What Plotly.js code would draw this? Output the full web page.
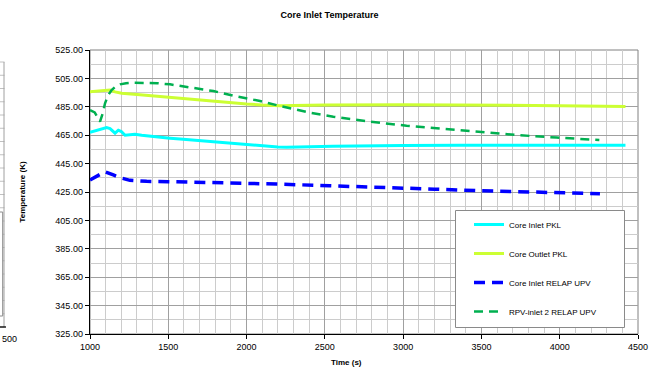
<!DOCTYPE html>
<html>
<head>
<meta charset="utf-8">
<script src="https://cdn.plot.ly/plotly-3.0.1.min.js"></script>
<style>html,body{margin:0;padding:0;background:#fff;}#chart{width:662px;height:370px;}</style>
</head>
<body>
<div id="chart"></div>
<script>
// ---- data ----
const seriesNames = ["Core Inlet PKL", "Core Outlet PKL", "Core Inlet RELAP UPV", "RPV-inlet 2 RELAP UPV"];

const inletPklTime = [1000, 1060, 1106, 1128, 1160, 1181, 1200, 1224, 1260, 1287, 1330, 1362, 1420, 1511, 1575, 1680, 1788, 1900, 2000, 2100, 2200, 2256, 2320, 2405, 2550, 2724, 3000, 3363, 3700, 4000, 4420];
const inletPklTemp = [467.0, 468.6, 470.3, 469.6, 466.4, 468.5, 467.6, 465.0, 465.4, 465.7, 464.9, 464.5, 463.7, 462.9, 462.3, 461.3, 460.4, 459.5, 458.6, 457.6, 456.7, 456.5, 456.5, 456.9, 457.3, 457.6, 457.8, 457.9, 457.9, 457.9, 457.9];

const outletPklTime = [1000, 1050, 1100, 1128, 1160, 1202, 1300, 1400, 1500, 1575, 1700, 1800, 1894, 2000, 2100, 2213, 2300, 2500, 3000, 3500, 4000, 4420];
const outletPklTemp = [495.6, 496.0, 496.5, 496.8, 495.5, 494.5, 493.6, 492.6, 491.7, 491.0, 489.8, 488.8, 487.9, 487.0, 486.3, 485.8, 486.0, 486.3, 486.5, 486.3, 485.8, 485.2];

const inletRelapTime = [1000, 1050, 1096, 1149, 1200, 1255, 1362, 1500, 1788, 2000, 2192, 2530, 2800, 2980, 3200, 3490, 3800, 4000, 4257];
const inletRelapTemp = [433.5, 436.5, 439.3, 437.0, 434.8, 433.2, 432.5, 432.3, 431.8, 431.2, 430.6, 429.4, 428.6, 427.9, 427.0, 425.9, 424.9, 424.3, 423.8];

const rpvInletTime = [1000, 1030, 1064, 1080, 1096, 1115, 1138, 1165, 1192, 1230, 1277, 1362, 1430, 1511, 1639, 1788, 1916, 2086, 2213, 2277, 2400, 2554, 2788, 3022, 3200, 3363, 3448, 3725, 3980, 4253];
const rpvInletTemp = [482.7, 481.0, 474.5, 480.0, 487.5, 493.0, 496.8, 499.5, 500.8, 501.6, 502.0, 502.0, 501.6, 500.8, 498.7, 496.1, 492.8, 489.1, 485.6, 484.0, 481.0, 478.0, 474.5, 471.7, 470.0, 468.7, 467.5, 465.1, 463.3, 461.6];

const xTickVals = [1000, 1500, 2000, 2500, 3000, 3500, 4000, 4500];
const yTickVals = [325, 345, 365, 385, 405, 425, 445, 465, 485, 505, 525];

// ---- layout helpers (pixel -> paper) ----
const W = 662, H = 370, ML = 90, MR = 24, MT = 50, MB = 36;
const PW = W - ML - MR, PH = H - MT - MB;
const px = x => (x - ML) / PW;
const py = y => (H - MB - y) / PH;
const FONT = "Liberation Sans, Arial, sans-serif";

const traces = [
  {x: inletPklTime, y: inletPklTemp, name: seriesNames[0], legendgroup: "a", mode: "lines",
   line: {color: "#00FFFF", width: 3}},
  {x: outletPklTime, y: outletPklTemp, name: seriesNames[1], legendgroup: "b", mode: "lines",
   line: {color: "#CCFF33", width: 3}},
  {x: inletRelapTime, y: inletRelapTemp, name: seriesNames[2], legendgroup: "c", mode: "lines",
   line: {color: "#0000FF", width: 3.5, dash: "11px,7px"}},
  {x: rpvInletTime, y: rpvInletTemp, name: seriesNames[3], legendgroup: "d", mode: "lines",
   line: {color: "#00B050", width: 2.5, dash: "9px,6px"}}
];

// decorations: border of plot area, legend box, fragment of neighbouring chart
const shapes = [
  {type: "rect", xref: "paper", yref: "paper", x0: 0, x1: 1, y0: 0, y1: 1,
   line: {color: "#808080", width: 1}, layer: "below"},
  {type: "rect", xref: "paper", yref: "paper", x0: px(455.5), x1: px(624.5), y0: py(327.5), y1: py(210.5),
   line: {color: "#8a8a8a", width: 1}, fillcolor: "#ffffff", layer: "above"}
];
// neighbouring chart fragment (left edge)
for (let i = 0; i <= 20; i++) {
  const yy = 62 + i * 13.25;
  shapes.push({type: "line", xref: "paper", yref: "paper", x0: px(0), x1: px(4.5), y0: py(yy), y1: py(yy),
    line: {color: "#c0c0c0", width: 1}});
}
shapes.push({type: "line", xref: "paper", yref: "paper", x0: px(4), x1: px(4), y0: py(62), y1: py(327),
  line: {color: "#a0a0a0", width: 1}});
shapes.push({type: "rect", xref: "paper", yref: "paper", x0: px(-20), x1: px(2.7), y0: py(316), y1: py(212),
  line: {color: "#8a8a8a", width: 1}, fillcolor: "#ffffff"});
shapes.push({type: "line", xref: "paper", yref: "paper", x0: px(0), x1: px(6), y0: py(327), y1: py(327),
  line: {color: "#000000", width: 1.3}});

const layout = {
  width: W, height: H,
  margin: {l: ML, r: MR, t: MT, b: MB, pad: 0},
  paper_bgcolor: "#ffffff", plot_bgcolor: "#ffffff",
  font: {family: FONT, size: 9, color: "#000"},
  title: {text: "<b>Core Inlet Temperature</b>", x: 329.5 / W, xref: "container", xanchor: "center",
          y: 1 - 15 / H, yref: "container", yanchor: "middle", font: {family: FONT, size: 9, color: "#000"}},
  showlegend: true,
  legend: {x: px(469), y: py(210), xanchor: "left", yanchor: "top", bgcolor: "rgba(0,0,0,0)",
           borderwidth: 0, font: {family: FONT, size: 8, color: "#000"}, tracegroupgap: 10},
  xaxis: {range: [1000, 4500], tickvals: xTickVals, ticktext: xTickVals.map(String),
          showline: true, linecolor: "#000", linewidth: 1.3, ticks: "outside", ticklen: 4, tickcolor: "#000",
          showgrid: true, gridcolor: "#a0a0a0", gridwidth: 1, zeroline: false,
          minor: {dtick: 100, tick0: 1000, showgrid: true, gridcolor: "#cccccc", gridwidth: 1, ticks: ""},
          tickfont: {family: FONT, size: 9, color: "#000"}},
  yaxis: {range: [325, 525], tickvals: yTickVals, ticktext: yTickVals.map(v => v.toFixed(2)),
          showline: true, linecolor: "#000", linewidth: 1.3, ticks: "outside", ticklen: 4, tickcolor: "#000",
          showgrid: true, gridcolor: "#a0a0a0", gridwidth: 1, zeroline: false,
          minor: {dtick: 10, tick0: 325, showgrid: true, gridcolor: "#cccccc", gridwidth: 1, ticks: ""},
          tickfont: {family: FONT, size: 9, color: "#000"},
          title: {text: "<b>Temperature (K)</b>", standoff: 28, font: {family: FONT, size: 8, color: "#000"}}},
  shapes: shapes,
  annotations: [
    {text: "<b>Time (s)</b>", xref: "paper", yref: "paper", x: px(346), y: py(362), xanchor: "center", yanchor: "middle",
     showarrow: false, font: {family: FONT, size: 8, color: "#000"}},
    {text: "500", xref: "paper", yref: "paper", x: px(0), y: py(339), xanchor: "left", yanchor: "middle",
     showarrow: false, font: {family: FONT, size: 9, color: "#000"}}
  ]
};

Plotly.newPlot("chart", traces, layout, {displayModeBar: false, staticPlot: true});
</script>
</body>
</html>
